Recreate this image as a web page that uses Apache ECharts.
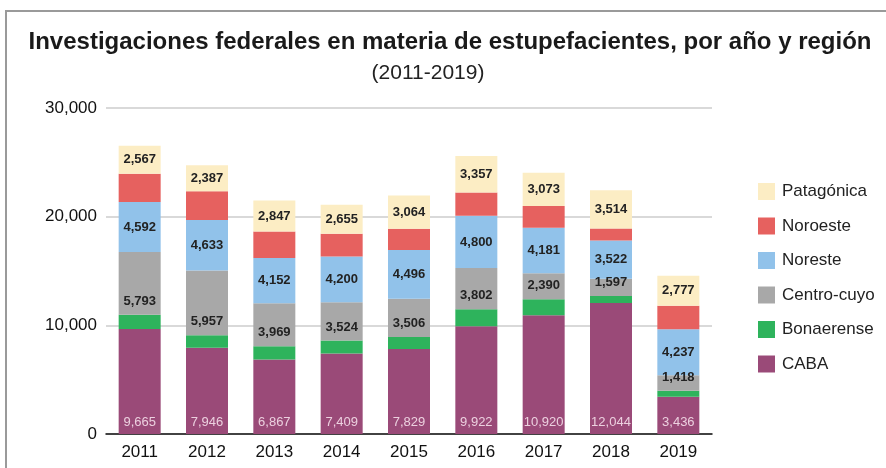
<!DOCTYPE html>
<html>
<head>
<meta charset="utf-8">
<script src="https://cdn.jsdelivr.net/npm/echarts@6/dist/echarts.min.js"></script>
<style>
html,body{margin:0;padding:0;background:#fff;}
#chart{width:886px;height:468px;}
</style>
</head>
<body>
<div id="chart"></div>
<script>
const years = ['2011','2012','2013','2014','2015','2016','2017','2018','2019'];
const caba = [9665,7946,6867,7409,7829,9922,10920,12044,3436];
const bonaerense = [1300,1150,1200,1200,1100,1550,1480,650,550];
const centroCuyo = [5793,5957,3969,3524,3506,3802,2390,1597,1418];
const noreste = [4592,4633,4152,4200,4496,4800,4181,3522,4237];
const noroeste = [2600,2650,2450,2100,1950,2150,2000,1100,2150];
const patagonica = [2567,2387,2847,2655,3064,3357,3073,3514,2777];
const yTicks = [0,10000,20000,30000];

const fmt = v => String(v).replace(/\B(?=(\d{3})+(?!\d))/g, ',');
const FONT = '"Liberation Sans", Arial, sans-serif';

const darkLabel = (pos, dist) => ({
  show: true, position: pos, distance: dist,
  color: '#222', fontSize: 13, fontWeight: 'bold', fontFamily: FONT,
  formatter: p => fmt(p.value)
});

const chart = echarts.init(document.getElementById('chart'));
chart.setOption({
  animation: false,
  backgroundColor: '#fff',
  graphic: [
    {type: 'rect', shape: {x: 6, y: 11, width: 920, height: 520},
     style: {fill: 'none', stroke: '#9a9a9a', lineWidth: 2}, silent: true, z: -10},
    {type: 'text', x: 450, y: 42,
     style: {text: 'Investigaciones federales en materia de estupefacientes, por año y región',
       textAlign: 'center', textVerticalAlign: 'middle', fill: '#1a1a1a',
       font: 'bold 24px ' + FONT}},
    {type: 'text', x: 428, y: 73,
     style: {text: '(2011-2019)', textAlign: 'center', textVerticalAlign: 'middle',
       fill: '#222', font: '21px ' + FONT}}
  ],
  grid: {left: 106, right: 174, top: 108, bottom: 34},
  legend: {
    orient: 'vertical', left: 753, top: 178,
    itemWidth: 17, itemHeight: 17, itemGap: 17.5, icon: 'rect',
    data: ['Patagónica','Noroeste','Noreste','Centro-cuyo','Bonaerense','CABA'],
    textStyle: {fontSize: 17, color: '#222', fontFamily: FONT, padding: [0,0,0,2]}
  },
  xAxis: {
    type: 'category', data: years,
    axisLine: {show: true, lineStyle: {color: '#111', width: 1.5}},
    axisTick: {show: false},
    axisLabel: {fontSize: 17, color: '#111', fontFamily: FONT, margin: 10}
  },
  yAxis: {
    type: 'value', min: yTicks[0], max: yTicks[yTicks.length-1], interval: 10000,
    axisLine: {show: false}, axisTick: {show: false},
    splitLine: {lineStyle: {color: '#cccccc', width: 1.5}},
    axisLabel: {fontSize: 17, color: '#111', fontFamily: FONT, margin: 9,
      formatter: v => fmt(v)}
  },
  series: [
    {name: 'CABA', type: 'bar', stack: 't', data: caba, barWidth: 42,
     itemStyle: {color: '#9a4a78'},
     label: {show: true, position: 'insideBottom', distance: 5, color: '#ecd0df',
       fontSize: 13, fontFamily: FONT, formatter: p => fmt(p.value)}},
    {name: 'Bonaerense', type: 'bar', stack: 't', data: bonaerense,
     itemStyle: {color: '#2eb35c'}},
    {name: 'Centro-cuyo', type: 'bar', stack: 't', data: centroCuyo,
     itemStyle: {color: '#a8a8a8'}, label: darkLabel('insideBottom', 7)},
    {name: 'Noreste', type: 'bar', stack: 't', data: noreste,
     itemStyle: {color: '#91c2ea'}, label: darkLabel('inside', 5)},
    {name: 'Noroeste', type: 'bar', stack: 't', data: noroeste,
     itemStyle: {color: '#e6615f'}},
    {name: 'Patagónica', type: 'bar', stack: 't', data: patagonica,
     itemStyle: {color: '#fcedc4'}, label: darkLabel('inside', 5)}
  ]
});
</script>
</body>
</html>
